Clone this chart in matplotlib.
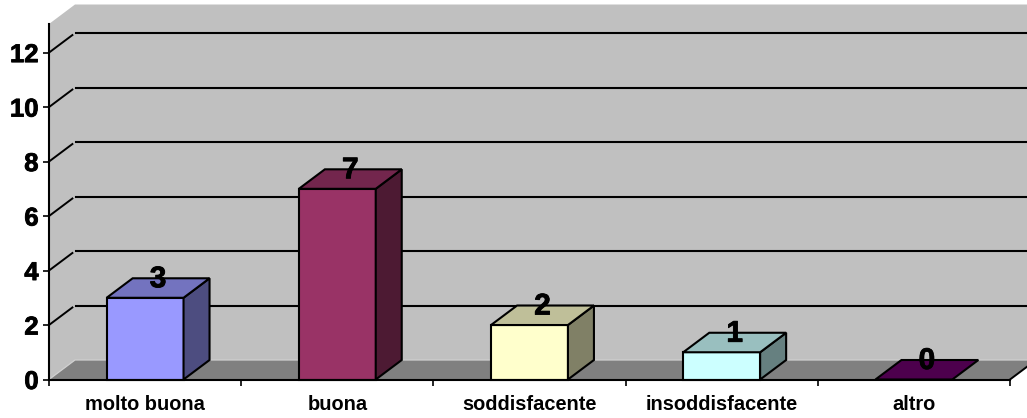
import matplotlib
matplotlib.use("Agg")
import matplotlib.pyplot as plt
import matplotlib.patheffects as pe
from matplotlib.patches import Polygon

categories = ["molto buona", "buona", "soddisfacente", "insoddisfacente", "altro"]
values = [3, 7, 2, 1, 0]
y_ticks = [0, 2, 4, 6, 8, 10, 12]

front_colors = ["#9999FF", "#993366", "#FFFFCC", "#CCFFFF", "#660066"]
top_colors = ["#7373BF", "#73264D", "#BFBF99", "#99BFBF", "#4D004D"]
side_colors = ["#4D4D80", "#4D1A33", "#808066", "#668080", "#330033"]

W, H = 1027, 418
plt.rcParams["font.family"] = ["Liberation Sans", "DejaVu Sans"]
plt.rcParams["font.weight"] = "bold"

fig = plt.figure(figsize=(W / 100, H / 100), dpi=100, facecolor="white")
# axes box in pixels: left wall at 49, floor front at 379
ax = fig.add_axes([49 / W, (H - 379.5) / H, 961 / W, 355.5 / H])
ax.set_xlim(-0.5, 4.5)
ax.set_ylim(0, 13.05)
ax.patch.set_alpha(0)

# depth of the fake 3d, in data units
dx = 26 / 192.2
dy = 19.5 / 27.25
bar_w = 0.4
top = 13.05
x0, x1 = -0.5, 4.5
# the numbers in the original are a bit heavier than plain bold
heavy = [pe.withStroke(linewidth=0.6, foreground="black")]


def poly(points, color, edge="none", lw=0, z=1):
    ax.add_patch(Polygon(points, closed=True, facecolor=color, edgecolor=edge,
                         linewidth=lw, clip_on=False, zorder=z, joinstyle="miter"))


# walls and floor
poly([(x0, 0), (x0 + dx, dy), (x1 + dx, dy), (x1 + dx, top + dy), (x0 + dx, top + dy), (x0, top)], "#C0C0C0")
poly([(x0, 0), (x0 + dx, dy), (x1 + dx, dy), (x1, 0)], "#808080")
ax.plot([x0, x0 + dx, x1 + dx], [0, dy, dy], color="#D0D0D0", lw=0.9, clip_on=False, zorder=1.5)
ax.plot([x1, x1 + dx], [0, dy], color="black", lw=1.4, clip_on=False, zorder=1.6)

# gridlines, back wall plus the slanted part on the left wall
for v in y_ticks[1:]:
    ax.plot([x0 + dx * 1.03, x1 + dx], [v + dy, v + dy], color="black", lw=1.5, clip_on=False, zorder=2)
    ax.plot([x0, x0 + dx * 0.9], [v, v + dy * 0.9], color="black", lw=1.4, clip_on=False, zorder=2)

# bars
for i, v in enumerate(values):
    a, b = i - bar_w / 2, i + bar_w / 2
    if v > 0:
        poly([(a, 0), (b, 0), (b, v), (a, v)], front_colors[i], "black", 1.5, 3)
        poly([(b, 0), (b + dx, dy), (b + dx, v + dy), (b, v)], side_colors[i], "black", 1.5, 3)
    poly([(a, v), (b, v), (b + dx, v + dy), (a + dx, v + dy)], top_colors[i], "black", 1.5, 3)
    ax.text(i + dx / 2, v + 0.68, str(v), ha="center", va="center", fontsize=21.5,
            fontweight="bold", color="black", zorder=5, path_effects=heavy)

for s in ["top", "right"]:
    ax.spines[s].set_visible(False)
for s in ["left", "bottom"]:
    ax.spines[s].set_linewidth(1.5)
    ax.spines[s].set_zorder(4)

ax.set_yticks(y_ticks)
ax.tick_params(axis="y", direction="out", length=4.3, width=1.2, labelsize=18.5, pad=3.2)
for lab in ax.get_yticklabels():
    lab.set_path_effects(heavy)
ax.set_xticks(range(len(categories)))
ax.set_xticklabels(categories, fontsize=14.4, fontweight="bold")
ax.tick_params(axis="x", which="major", length=0, pad=11.5)
ax.set_xticks([i - 0.5 for i in range(len(categories) + 1)], minor=True)
ax.tick_params(axis="x", which="minor", direction="out", length=4.3, width=1.2)

fig.savefig("out.png", dpi=100, facecolor="white")
